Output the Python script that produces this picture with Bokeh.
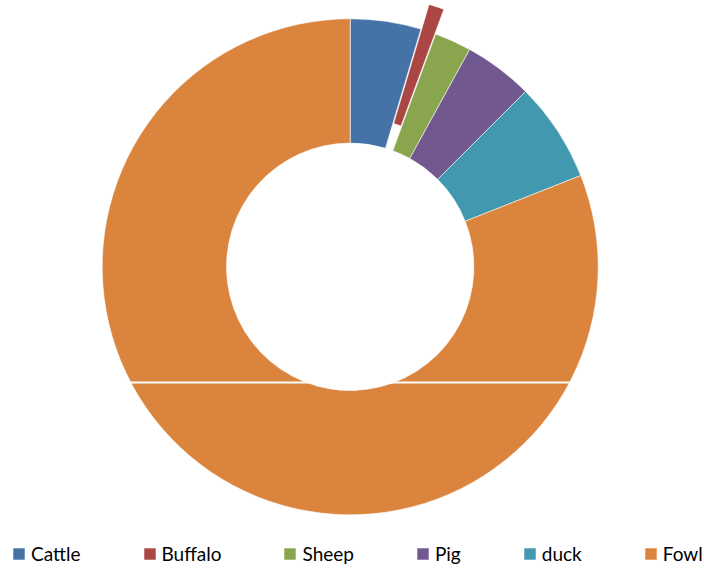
import math
from bokeh.plotting import figure
from bokeh.models import ColumnDataSource, Range1d, Legend, LegendItem, Span
from bokeh.embed import file_html
from bokeh.resources import INLINE

# ---- data ----
categories = ["Cattle", "Buffalo", "Sheep", "Pig", "duck", "Fowl"]
values = [4.6, 1.0, 2.4, 4.5, 6.5, 81.0]
colors = ["#4572A7", "#AA4643", "#89A54E", "#71588F", "#4198AF", "#DB843D"]
exploded = ["Buffalo"]

# ---- style ----
W, H = 704, 568
CX, CY = 349.7, 266.3        # donut centre inside the figure (pixels)
R_OUT, R_IN = 248, 123.7
EXPLODE_PX = 26
FONT = "Lato"

total = float(sum(values))
starts, ends, xs, ys = [], [], [], []
cum = 0.0
for name, v in zip(categories, values):
    a0 = math.pi / 2 - 2 * math.pi * cum / total
    cum += v
    a1 = math.pi / 2 - 2 * math.pi * cum / total
    starts.append(a1)
    ends.append(a0)
    mid = (a0 + a1) / 2
    d = EXPLODE_PX if name in exploded else 0
    xs.append(d * math.cos(mid))
    ys.append(d * math.sin(mid))

src = ColumnDataSource(dict(x=xs, y=ys, start=starts, end=ends,
                            color=colors, label=categories))

p = figure(width=W, height=H, output_backend="svg", toolbar_location=None,
           x_range=Range1d(-CX, W - CX), y_range=Range1d(CY - H, CY),
           min_border=0, outline_line_color=None)
p.axis.visible = False
p.grid.visible = False
p.background_fill_color = "white"
p.border_fill_color = "white"

r = p.annular_wedge(x="x", y="y", inner_radius=R_IN, outer_radius=R_OUT,
                    start_angle="start", end_angle="end", direction="anticlock",
                    fill_color="color", line_color="white", line_width=0.8,
                    line_alpha=0.7, source=src)

# thin white seam crossing the lower part of the ring (as in the reference)
p.add_layout(Span(location=-115.7, dimension="width", line_color="white",
                  line_width=2))

items = [LegendItem(label=c, renderers=[r], index=i) for i, c in enumerate(categories)]
legend = Legend(items=items, orientation="horizontal", location=(11, 3),
                padding=0, margin=0, spacing=61, label_standoff=5,
                glyph_width=15, glyph_height=15, label_height=15,
                label_text_font=FONT, label_text_font_size="19px",
                label_text_color="#000000",
                border_line_color=None, background_fill_alpha=0)
p.add_layout(legend, "center")

open("out.html", "w").write(file_html(p, INLINE))
